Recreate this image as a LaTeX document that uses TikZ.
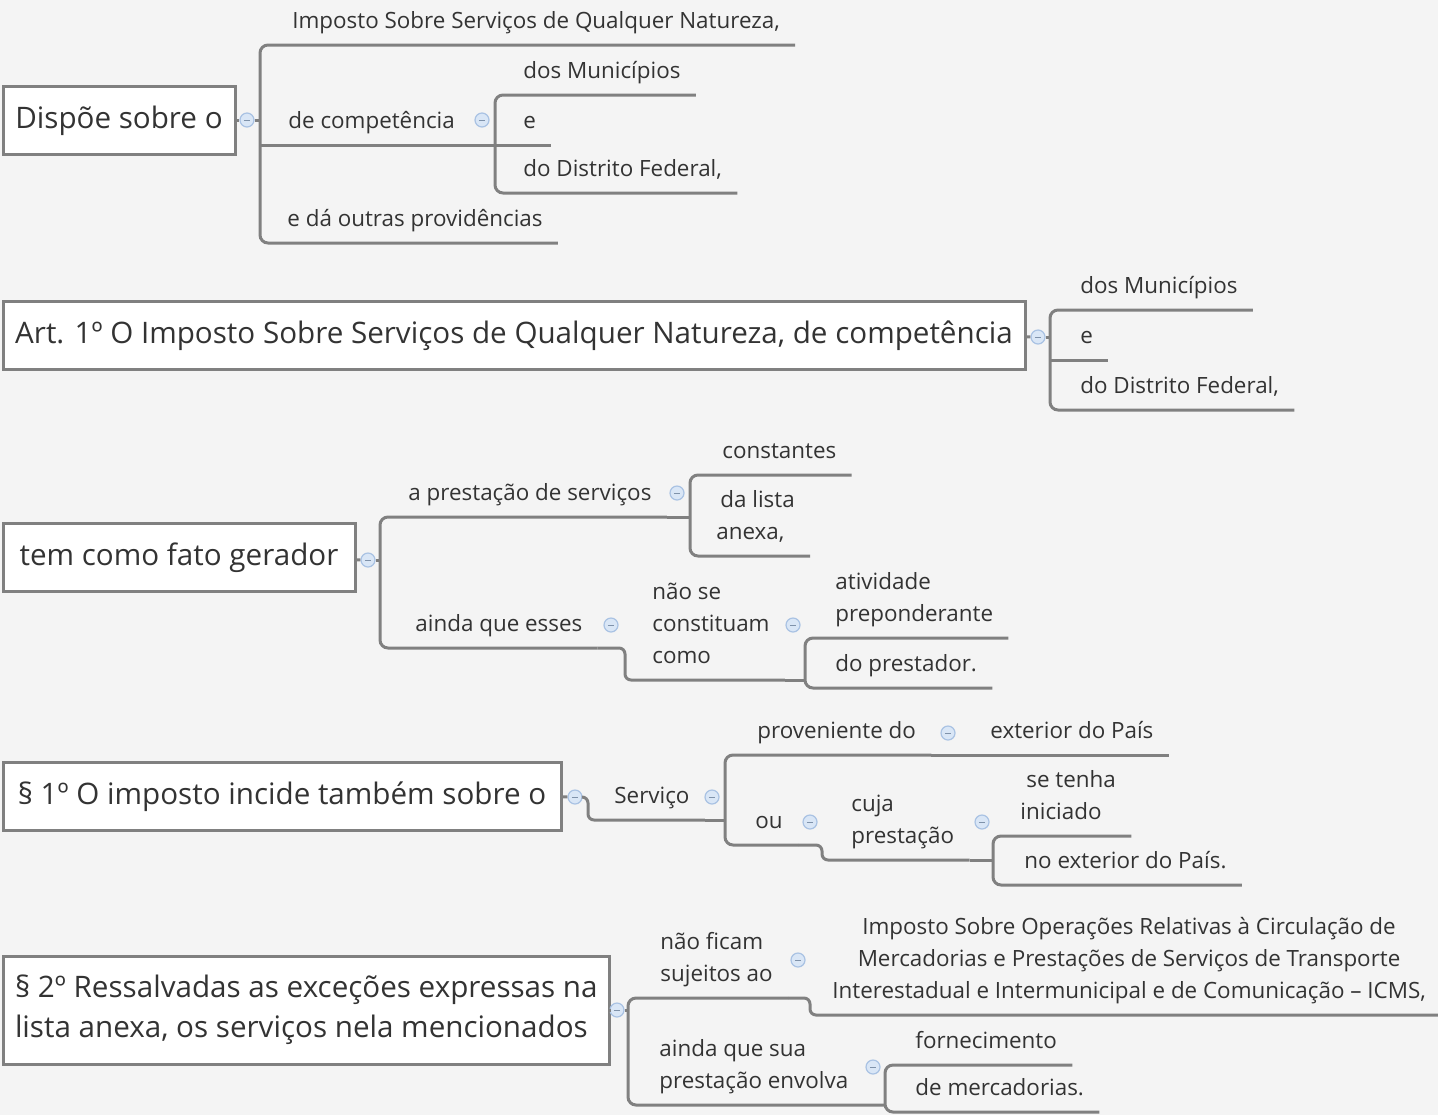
\documentclass[tikz,border=0pt]{standalone}
\usepackage{fontspec}
\setmainfont{Open Sans}
\definecolor{bgcol}{HTML}{F4F4F4}
\definecolor{linecol}{HTML}{808080}
\definecolor{txtcol}{HTML}{333333}
\definecolor{foldfill}{HTML}{D9E6F6}
\definecolor{folddraw}{HTML}{A9C2E3}
\tikzset{
  root/.style={draw=linecol, line width=1.5pt, fill=white, text=txtcol,
    font=\fontsize{14.8}{20}\selectfont, inner xsep=6pt, minimum height=34pt, anchor=west,
    text height=11pt, text depth=3pt},
  leaf/.style={text=txtcol, font=\fontsize{11.2}{16}\selectfont, inner xsep=7.5pt,
    inner ysep=3.5pt, anchor=south west, align=left, execute at end node=\strut},
  branch/.style={draw=linecol, line width=1.5pt, rounded corners=4pt},
  fold/.style={circle, draw=folddraw, fill=foldfill, line width=0.6pt, minimum size=7pt,
    inner sep=0pt, path picture={\draw[folddraw!75!black, line width=0.5pt]
      ([xshift=-1.6pt]path picture bounding box.center) -- ([xshift=1.6pt]path picture bounding box.center);}}
}
\begin{document}
\begin{tikzpicture}[x=0.5pt, y=-0.5pt]
% canvas
\fill[bgcol] (0,0) rectangle (1438,1115);
\useasboundingbox (0,0) rectangle (1438,1115);

% Dispoe sobre o
\node[root, minimum width=116pt] (dispoe) at (1.5,120) {Dispõe sobre o};
\node[fold] (f1) at (247,120) {};
\coordinate (b1) at (260,120);
\node[leaf] (imposto) at (277,45) {Imposto Sobre Serviços de Qualquer Natureza,};
\node[leaf] (competencia) at (273,145) {de competência};
\node[leaf] (outras) at (272,243) {e dá outras providências};
\node[fold] (f2) at (482,120) {};
\coordinate (b2) at (495,145);
\node[leaf] (mun1) at (508,95) {dos Municípios};
\node[leaf] (e1) at (508,145) {e};
\node[leaf] (df1) at (508,193) {do Distrito Federal,};
\draw[branch] (dispoe) -- (f1);
\draw[branch] (f1) -- (b1);
\draw[branch] (imposto.south east) -- (imposto.south west -| b1) -- (outras.south west -| b1) -- (outras.south east);
\draw[branch] (competencia.south west -| b1) -- (competencia.south east) -- (b2);
\draw[branch] (mun1.south east) -- (mun1.south west -| b2) -- (df1.south west -| b2) -- (df1.south east);
\draw[branch] (b2) -- (e1.south east);

% Art. 1
\node[root, minimum width=511pt] (art) at (1.5,335) {Art. 1º O Imposto Sobre Serviços de Qualquer Natureza, de competência};
\node[fold] (f3) at (1038,337) {};
\coordinate (b3) at (1050,337);
\node[leaf] (mun2) at (1065,310) {dos Municípios};
\node[leaf] (e2) at (1065,360) {e};
\node[leaf] (df2) at (1065,410) {do Distrito Federal,};
\draw[branch] (art) -- (f3);
\draw[branch] (f3) -- (b3);
\draw[branch] (mun2.south east) -- (mun2.south west -| b3) -- (df2.south west -| b3) -- (df2.south east);
\draw[branch] (e2.south west -| b3) -- (e2.south east);

% fato gerador
\node[root, minimum width=176pt] (fato) at (1.5,557) {tem como fato gerador};
\node[fold] (f4) at (368,560) {};
\coordinate (b4) at (380,560);
\node[leaf] (prest) at (393,517) {a prestação de serviços};
\node[fold] (f5) at (677,493) {};
\coordinate (b5) at (690,517);
\node[leaf] (const) at (707,475) {constantes};
\node[leaf] (lista) at (701,556) {\hspace{2pt}da lista\\anexa,};
\node[leaf] (esses) at (400,648) {ainda que esses};
\node[fold] (f6) at (611,625) {};
\coordinate (b6) at (625,648);
\node[leaf] (constituam) at (637,680) {não se\\constituam\\como};
\node[fold] (f7) at (793,625) {};
\coordinate (b7) at (805,680);
\node[leaf] (ativ) at (820,638) {atividade\\preponderante};
\node[leaf] (prestador) at (820,688) {do prestador.};
\draw[branch] (fato) -- (f4);
\draw[branch] (f4) -- (b4);
\draw[branch] (prest.south east) -- (prest.south west -| b4) -- (esses.south west -| b4) -- (esses.south east);
\draw[branch] (prest.south east) -- (b5);
\draw[branch] (const.south east) -- (const.south west -| b5) -- (lista.south west -| b5) -- (lista.south east);
\draw[branch, rounded corners=3pt] (esses.south east) -- (b6) -- (constituam.south west -| b6) -- (constituam.south east);
\draw[branch] (constituam.south east) -- (b7);
\draw[branch] (ativ.south east) -- (ativ.south west -| b7) -- (prestador.south west -| b7) -- (prestador.south east);

% paragrafo 1
\node[root, minimum width=279pt] (incide) at (1.5,796) {§ 1º O imposto incide também sobre o};
\node[fold] (f8) at (575,797) {};
\coordinate (b8) at (588,797);
\node[leaf] (servico) at (599,820) {Serviço};
\node[fold] (f9) at (712,797) {};
\coordinate (b9) at (725,820);
\node[leaf] (proven) at (742,755) {proveniente do};
\node[fold] (f10) at (948,733) {};
\coordinate (b10) at (960,755);
\node[leaf] (exterior) at (975,755) {exterior do País};
\node[leaf] (ou) at (740,845) {ou};
\node[fold] (f11) at (810,822) {};
\coordinate (b11) at (822,845);
\node[leaf] (cuja) at (836,860) {cuja\\prestação};
\node[fold] (f12) at (982,822) {};
\coordinate (b12) at (993,860);
\node[leaf] (iniciado) at (1005,836) {\hspace{3pt}se tenha\\iniciado};
\node[leaf] (noext) at (1009,885) {no exterior do País.};
\draw[branch] (incide) -- (f8);
\draw[branch, rounded corners=3pt] (f8) -- (b8) -- (b8 |- servico.south) -- (servico.south east);
\draw[branch] (servico.south east) -- (b9);
\draw[branch] (proven.south east) -- (proven.south west -| b9) -- (ou.south west -| b9) -- (ou.south east);
\draw[branch] (proven.south east) -- (b10) -- (exterior.south east);
\draw[branch, rounded corners=3pt] (ou.south east) -- (b11) -- (b11 |- cuja.south) -- (cuja.south east);
\draw[branch] (cuja.south east) -- (b12);
\draw[branch] (iniciado.south east) -- (iniciado.south west -| b12) -- (noext.south west -| b12) -- (noext.south east);

% paragrafo 2
\node[root, align=left, text height={}, text depth={}, minimum width=301pt, minimum height=54pt] (ressalv) at (1.5,1010)
  {§ 2º Ressalvadas as exceções expressas na\\lista anexa, os serviços nela mencionados};
\node[fold] (f13) at (617,1010) {};
\coordinate (b13) at (628,1010);
\node[leaf] (ficam) at (645,998) {não ficam\\sujeitos ao};
\node[fold] (f14) at (798,960) {};
\coordinate (b14) at (810,998);
\node[leaf, align=center, inner xsep=3pt] (icms) at (826,1015) {Imposto Sobre Operações Relativas à Circulação de\\Mercadorias e Prestações de Serviços de Transporte\\Interestadual e Intermunicipal e de Comunicação – ICMS,};
\node[leaf] (envolva) at (644,1105) {ainda que sua\\prestação envolva};
\node[fold] (f15) at (873,1067) {};
\coordinate (b15) at (885,1105);
\node[leaf] (fornec) at (900,1065) {fornecimento};
\node[leaf] (merc) at (900,1112) {de mercadorias.};
\draw[branch] (ressalv) -- (f13);
\draw[branch] (f13) -- (b13);
\draw[branch] (ficam.south east) -- (ficam.south west -| b13) -- (envolva.south west -| b13) -- (envolva.south east) -- (b15);
\draw[branch, rounded corners=3pt] (ficam.south east) -- (b14) -- (b14 |- icms.south) -- (icms.south east) -- ++(10,0);
\draw[branch] (fornec.south east) -- (fornec.south west -| b15) -- (merc.south west -| b15) -- (merc.south east);
\end{tikzpicture}
\end{document}
